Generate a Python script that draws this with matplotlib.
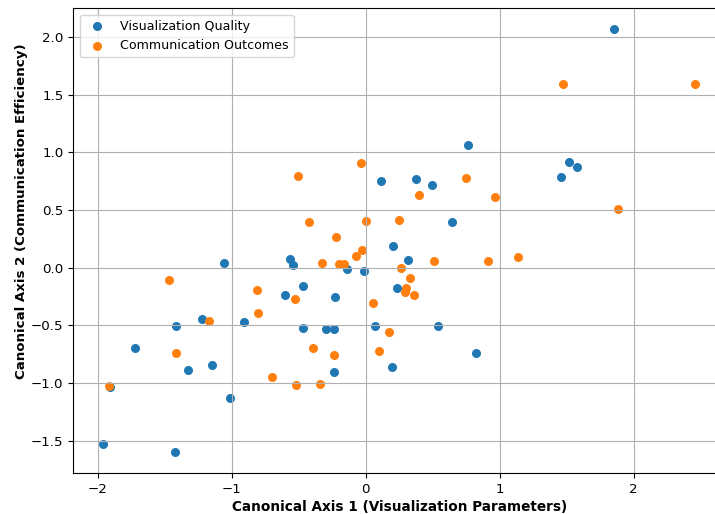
import matplotlib
matplotlib.use("Agg")
from matplotlib import pyplot as plt

# canonical scores
vis_x = [1.851, 0.764, 1.517, 1.575, 1.460, 0.373, 0.112, 0.493, 0.644, 0.204,
         -0.567, -0.547, -1.060, 0.311, -0.142, -0.017, 0.235, -0.468, -0.602, -0.229,
         -1.224, -1.416, -0.910, -0.468, -0.299, -0.236, 0.065, 0.540, -1.726, 0.819,
         -1.331, -1.152, -0.236, 0.194, -1.913, -1.015, -1.963, -1.425]
vis_y = [2.066, 1.065, 0.915, 0.877, 0.787, 0.767, 0.753, 0.721, 0.397, 0.188,
         0.077, 0.026, 0.041, 0.066, -0.014, -0.029, -0.172, -0.162, -0.240, -0.251,
         -0.445, -0.503, -0.469, -0.521, -0.529, -0.529, -0.509, -0.503, -0.694, -0.738,
         -0.888, -0.845, -0.908, -0.859, -1.038, -1.131, -1.525, -1.600]

com_x = [1.475, 2.460, -0.037, -0.505, 0.749, 0.400, 0.965, 1.881, -0.423, 0.002,
         0.249, -0.224, -0.031, -0.077, -0.328, -0.199, -0.162, 0.510, 0.910, 1.139,
         0.259, 0.326, 0.299, 0.291, 0.356, -1.468, -0.811, -0.530, 0.055, -1.169,
         -0.803, 0.172, -1.418, -0.393, -0.239, 0.099, -0.704, -0.520, -0.346, -1.918]
com_y = [1.589, 1.597, 0.911, 0.796, 0.779, 0.631, 0.617, 0.510, 0.399, 0.408,
         0.415, 0.264, 0.157, 0.103, 0.041, 0.029, 0.035, 0.055, 0.055, 0.093,
         -0.005, -0.087, -0.176, -0.214, -0.240, -0.104, -0.194, -0.272, -0.304, -0.466,
         -0.390, -0.558, -0.738, -0.697, -0.758, -0.720, -0.952, -1.015, -1.012, -1.030]

fig = plt.figure(figsize=(7.15, 5.14), dpi=100)
# the reference is cropped on the right, so the axes run past the figure edge
ax = fig.add_axes([73.3 / 715, (514 - 473.3) / 514, (725 - 73.3) / 715, (473.3 - 8.3) / 514])

ax.scatter(vis_x, vis_y, s=30, label='Visualization Quality')
ax.scatter(com_x, com_y, s=30, label='Communication Outcomes')

ax.set_xlabel('Canonical Axis 1 (Visualization Parameters)', fontweight='bold', fontsize=9.8)
ax.set_ylabel('Canonical Axis 2 (Communication Efficiency)', fontweight='bold', fontsize=9.6)
ax.xaxis.set_label_coords(0.5, -0.057)
ax.yaxis.set_label_coords(-0.07, 0.563)
ax.tick_params(labelsize=9.6)
ax.legend(loc='upper left', fontsize=9.1)
ax.grid(True)

fig.savefig('out.png', dpi=100)
